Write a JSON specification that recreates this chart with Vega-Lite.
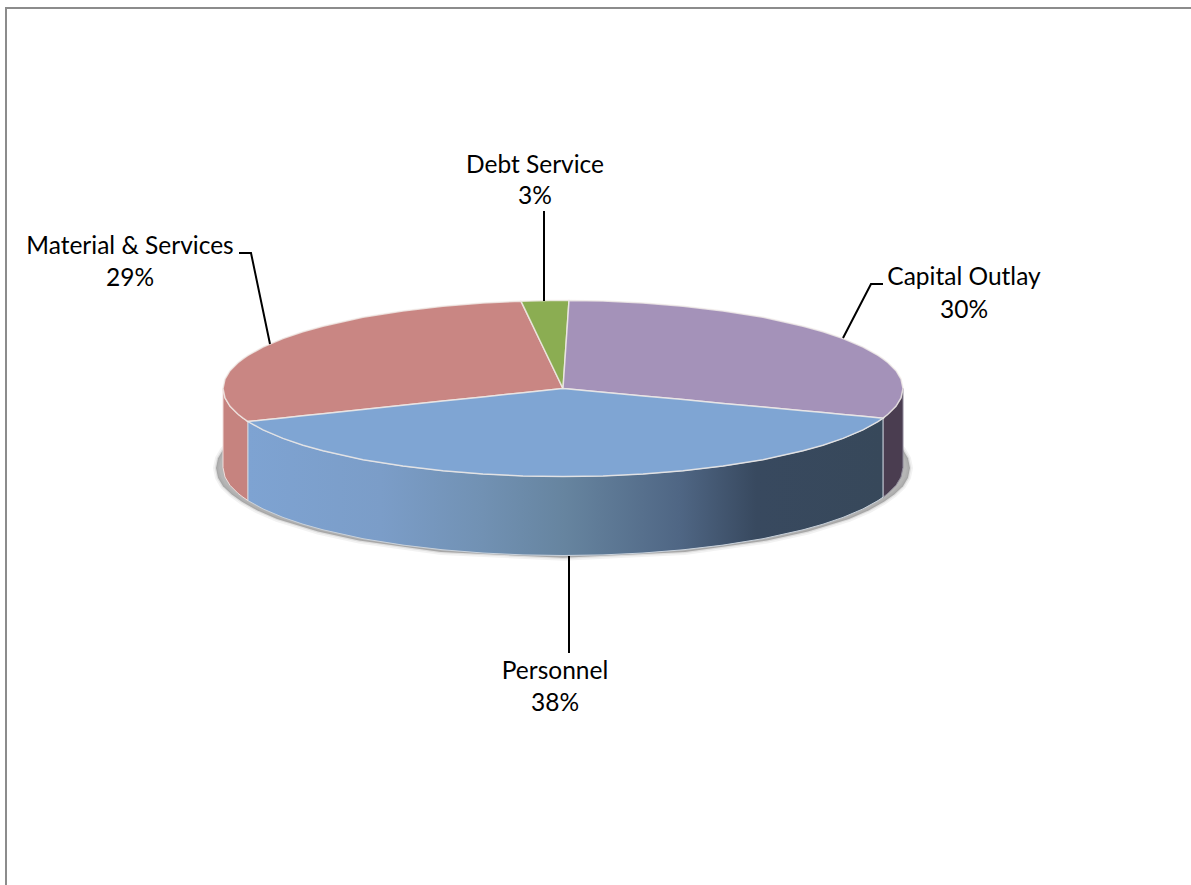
{
  "$schema": "https://vega.github.io/schema/vega-lite/v6.json",
  "width": 1191,
  "height": 885,
  "padding": 0,
  "autosize": {"type": "none"},
  "background": "white",
  "config": {"view": {"stroke": null}},
  "datasets": {
    "frame": [
      {"edge": "top-left", "seq": 1, "x": 6, "y": 885},
      {"edge": "top-left", "seq": 2, "x": 6, "y": 8},
      {"edge": "top-left", "seq": 3, "x": 1191, "y": 8}
    ],
    "shadow": [
      {"x": 216, "y": 468, "y2": 468}, {"x": 218, "y": 458.3, "y2": 477.7}, {"x": 223, "y": 449.8, "y2": 486.2},
      {"x": 231.5, "y": 441.7, "y2": 494.3}, {"x": 242, "y": 434.2, "y2": 501.8}, {"x": 257, "y": 425.8, "y2": 510.2},
      {"x": 277, "y": 417.1, "y2": 518.9}, {"x": 318, "y": 404.5, "y2": 531.5}, {"x": 359, "y": 395.4, "y2": 540.6},
      {"x": 441, "y": 384, "y2": 552}, {"x": 563, "y": 378.2, "y2": 557.8}, {"x": 685, "y": 384, "y2": 552},
      {"x": 767, "y": 395.4, "y2": 540.6}, {"x": 808, "y": 404.5, "y2": 531.5}, {"x": 849, "y": 417.1, "y2": 518.9},
      {"x": 869, "y": 425.8, "y2": 510.2}, {"x": 884, "y": 434.2, "y2": 501.8}, {"x": 894.5, "y": 441.7, "y2": 494.3},
      {"x": 903, "y": 449.8, "y2": 486.2}, {"x": 908, "y": 458.3, "y2": 477.7}, {"x": 910, "y": 468, "y2": 468}
    ],
    "wall": [
      {"slice": "Material & Services", "x": 223, "y": 388.5, "y2": 467.5},
      {"slice": "Material & Services", "x": 225, "y": 398, "y2": 477},
      {"slice": "Material & Services", "x": 230, "y": 406.3, "y2": 485.3},
      {"slice": "Material & Services", "x": 238, "y": 414.3, "y2": 493.3},
      {"slice": "Material & Services", "x": 243, "y": 418.2, "y2": 497.2},
      {"slice": "Material & Services", "x": 248, "y": 421.6, "y2": 500.6},
      {"slice": "Capital Outlay", "x": 883, "y": 418.2, "y2": 497.2},
      {"slice": "Capital Outlay", "x": 888, "y": 414.3, "y2": 493.3},
      {"slice": "Capital Outlay", "x": 896, "y": 406.3, "y2": 485.3},
      {"slice": "Capital Outlay", "x": 901, "y": 398, "y2": 477},
      {"slice": "Capital Outlay", "x": 903, "y": 388.5, "y2": 467.5},
      {"slice": "Personnel", "x": 248, "y": 421.6, "y2": 500.6},
      {"slice": "Personnel", "x": 263, "y": 429.9, "y2": 508.9},
      {"slice": "Personnel", "x": 283, "y": 438.4, "y2": 517.4},
      {"slice": "Personnel", "x": 303, "y": 445.2, "y2": 524.2},
      {"slice": "Personnel", "x": 323, "y": 450.8, "y2": 529.8},
      {"slice": "Personnel", "x": 363, "y": 459.7, "y2": 538.7},
      {"slice": "Personnel", "x": 403, "y": 466.1, "y2": 545.1},
      {"slice": "Personnel", "x": 443, "y": 470.8, "y2": 549.8},
      {"slice": "Personnel", "x": 483, "y": 474, "y2": 553},
      {"slice": "Personnel", "x": 523, "y": 475.9, "y2": 554.9},
      {"slice": "Personnel", "x": 563, "y": 476.5, "y2": 555.5},
      {"slice": "Personnel", "x": 603, "y": 475.9, "y2": 554.9},
      {"slice": "Personnel", "x": 643, "y": 474, "y2": 553},
      {"slice": "Personnel", "x": 683, "y": 470.8, "y2": 549.8},
      {"slice": "Personnel", "x": 723, "y": 466.1, "y2": 545.1},
      {"slice": "Personnel", "x": 763, "y": 459.7, "y2": 538.7},
      {"slice": "Personnel", "x": 803, "y": 450.8, "y2": 529.8},
      {"slice": "Personnel", "x": 823, "y": 445.2, "y2": 524.2},
      {"slice": "Personnel", "x": 843, "y": 438.4, "y2": 517.4},
      {"slice": "Personnel", "x": 863, "y": 429.9, "y2": 508.9},
      {"slice": "Personnel", "x": 878, "y": 421.6, "y2": 500.6},
      {"slice": "Personnel", "x": 883, "y": 418.2, "y2": 497.2}
    ],
    "top": [
      {"slice": "Material & Services", "x": 223, "y": 388.5, "y2": 388.5},
      {"slice": "Material & Services", "x": 225, "y": 379, "y2": 398},
      {"slice": "Material & Services", "x": 230, "y": 370.7, "y2": 406.3},
      {"slice": "Material & Services", "x": 238, "y": 362.7, "y2": 414.3},
      {"slice": "Material & Services", "x": 243, "y": 358.8, "y2": 418.2},
      {"slice": "Material & Services", "x": 248, "y": 355.4, "y2": 421.6},
      {"slice": "Material & Services", "x": 263, "y": 347.1, "y2": 420},
      {"slice": "Material & Services", "x": 283, "y": 338.6, "y2": 417.9},
      {"slice": "Material & Services", "x": 303, "y": 331.8, "y2": 415.8},
      {"slice": "Material & Services", "x": 323, "y": 326.2, "y2": 413.7},
      {"slice": "Material & Services", "x": 363, "y": 317.3, "y2": 409.5},
      {"slice": "Material & Services", "x": 403, "y": 310.9, "y2": 405.3},
      {"slice": "Material & Services", "x": 443, "y": 306.2, "y2": 401.1},
      {"slice": "Material & Services", "x": 483, "y": 303, "y2": 396.9},
      {"slice": "Material & Services", "x": 521, "y": 301.2, "y2": 392.9},
      {"slice": "Material & Services", "x": 563, "y": 388.5, "y2": 388.5},
      {"slice": "Debt Service", "x": 521, "y": 301.2, "y2": 301.2},
      {"slice": "Debt Service", "x": 530, "y": 300.9, "y2": 319.9},
      {"slice": "Debt Service", "x": 540, "y": 300.7, "y2": 340.7},
      {"slice": "Debt Service", "x": 550, "y": 300.6, "y2": 361.5},
      {"slice": "Debt Service", "x": 563, "y": 300.5, "y2": 388.5},
      {"slice": "Debt Service", "x": 569, "y": 300.5, "y2": 300.5},
      {"slice": "Capital Outlay", "x": 563, "y": 388.5, "y2": 388.5},
      {"slice": "Capital Outlay", "x": 569, "y": 300.5, "y2": 389.1},
      {"slice": "Capital Outlay", "x": 603, "y": 301.1, "y2": 392.2},
      {"slice": "Capital Outlay", "x": 643, "y": 303, "y2": 395.9},
      {"slice": "Capital Outlay", "x": 683, "y": 306.2, "y2": 399.6},
      {"slice": "Capital Outlay", "x": 723, "y": 310.9, "y2": 403.4},
      {"slice": "Capital Outlay", "x": 763, "y": 317.3, "y2": 407.1},
      {"slice": "Capital Outlay", "x": 803, "y": 326.2, "y2": 410.8},
      {"slice": "Capital Outlay", "x": 823, "y": 331.8, "y2": 412.6},
      {"slice": "Capital Outlay", "x": 843, "y": 338.6, "y2": 414.5},
      {"slice": "Capital Outlay", "x": 863, "y": 347.1, "y2": 416.3},
      {"slice": "Capital Outlay", "x": 878, "y": 355.4, "y2": 417.7},
      {"slice": "Capital Outlay", "x": 883, "y": 358.8, "y2": 418.2},
      {"slice": "Capital Outlay", "x": 888, "y": 362.7, "y2": 414.3},
      {"slice": "Capital Outlay", "x": 896, "y": 370.7, "y2": 406.3},
      {"slice": "Capital Outlay", "x": 901, "y": 379, "y2": 398},
      {"slice": "Capital Outlay", "x": 903, "y": 388.5, "y2": 388.5},
      {"slice": "Personnel", "x": 248, "y": 421.6, "y2": 421.6},
      {"slice": "Personnel", "x": 263, "y": 420, "y2": 429.9},
      {"slice": "Personnel", "x": 283, "y": 417.9, "y2": 438.4},
      {"slice": "Personnel", "x": 303, "y": 415.8, "y2": 445.2},
      {"slice": "Personnel", "x": 323, "y": 413.7, "y2": 450.8},
      {"slice": "Personnel", "x": 363, "y": 409.5, "y2": 459.7},
      {"slice": "Personnel", "x": 403, "y": 405.3, "y2": 466.1},
      {"slice": "Personnel", "x": 443, "y": 401.1, "y2": 470.8},
      {"slice": "Personnel", "x": 483, "y": 396.9, "y2": 474},
      {"slice": "Personnel", "x": 523, "y": 392.7, "y2": 475.9},
      {"slice": "Personnel", "x": 563, "y": 388.5, "y2": 476.5},
      {"slice": "Personnel", "x": 603, "y": 392.2, "y2": 475.9},
      {"slice": "Personnel", "x": 643, "y": 395.9, "y2": 474},
      {"slice": "Personnel", "x": 683, "y": 399.6, "y2": 470.8},
      {"slice": "Personnel", "x": 723, "y": 403.4, "y2": 466.1},
      {"slice": "Personnel", "x": 763, "y": 407.1, "y2": 459.7},
      {"slice": "Personnel", "x": 803, "y": 410.8, "y2": 450.8},
      {"slice": "Personnel", "x": 823, "y": 412.6, "y2": 445.2},
      {"slice": "Personnel", "x": 843, "y": 414.5, "y2": 438.4},
      {"slice": "Personnel", "x": 863, "y": 416.3, "y2": 429.9},
      {"slice": "Personnel", "x": 878, "y": 417.7, "y2": 421.6},
      {"slice": "Personnel", "x": 883, "y": 418.2, "y2": 418.2}
    ],
    "leaders": [
      {"slice": "Debt Service", "seq": 1, "x": 544, "y": 211},
      {"slice": "Debt Service", "seq": 2, "x": 544, "y": 301},
      {"slice": "Material & Services", "seq": 1, "x": 239, "y": 253},
      {"slice": "Material & Services", "seq": 2, "x": 251, "y": 253},
      {"slice": "Material & Services", "seq": 3, "x": 270, "y": 344},
      {"slice": "Capital Outlay", "seq": 1, "x": 883, "y": 284},
      {"slice": "Capital Outlay", "seq": 2, "x": 871, "y": 284},
      {"slice": "Capital Outlay", "seq": 3, "x": 843, "y": 338},
      {"slice": "Personnel", "seq": 1, "x": 569, "y": 556},
      {"slice": "Personnel", "seq": 2, "x": 569, "y": 653}
    ],
    "labels": [
      {"slice": "Debt Service", "share": 0.03, "x": 535, "y": 166, "yShare": 197},
      {"slice": "Material & Services", "share": 0.29, "x": 130, "y": 247, "yShare": 279},
      {"slice": "Capital Outlay", "share": 0.30, "x": 964, "y": 278, "yShare": 311},
      {"slice": "Personnel", "share": 0.38, "x": 555, "y": 672, "yShare": 704}
    ]
  },
  "encoding": {
    "x": {"field": "x", "type": "quantitative", "axis": null, "scale": {"domain": [0, 1191], "nice": false, "zero": false}},
    "y": {"field": "y", "type": "quantitative", "axis": null, "scale": {"domain": [885, 0], "nice": false, "zero": false}}
  },
  "layer": [
    {
      "data": {"name": "frame"},
      "mark": {"type": "line", "color": "#8c8c8c", "strokeWidth": 2},
      "encoding": {"order": {"field": "seq"}, "detail": {"field": "edge"}}
    },
    {
      "data": {"name": "shadow"},
      "mark": {"type": "area", "orient": "vertical", "fill": "#000000", "fillOpacity": 0, "stroke": "#000000", "strokeOpacity": 0.05, "strokeWidth": 6},
      "encoding": {"y2": {"field": "y2"}}
    },
    {
      "data": {"name": "shadow"},
      "mark": {"type": "area", "orient": "vertical", "fill": "#000000", "fillOpacity": 0, "stroke": "#000000", "strokeOpacity": 0.08, "strokeWidth": 2.5},
      "encoding": {"y2": {"field": "y2"}}
    },
    {
      "data": {"name": "shadow"},
      "mark": {"type": "area", "orient": "vertical", "fill": "#7a7a7a", "fillOpacity": 0.55},
      "encoding": {"y2": {"field": "y2"}}
    },
    {
      "data": {"name": "wall"},
      "transform": [{"filter": "datum.slice === 'Material & Services'"}],
      "mark": {"type": "area", "orient": "vertical", "fill": "#c6837f", "stroke": "#f0dcda", "strokeWidth": 1},
      "encoding": {"y2": {"field": "y2"}}
    },
    {
      "data": {"name": "wall"},
      "transform": [{"filter": "datum.slice === 'Capital Outlay'"}],
      "mark": {"type": "area", "orient": "vertical", "fill": "#4a3d50", "stroke": "#8f8a9a", "strokeWidth": 1},
      "encoding": {"y2": {"field": "y2"}}
    },
    {
      "data": {"name": "wall"},
      "transform": [{"filter": "datum.slice === 'Personnel'"}],
      "mark": {
        "type": "area",
        "orient": "vertical",
        "stroke": "#c9d2dc",
        "strokeWidth": 1,
        "fill": {
          "gradient": "linear",
          "x1": 0, "y1": 0, "x2": 1, "y2": 0,
          "stops": [
            {"offset": 0, "color": "#7ea3d2"},
            {"offset": 0.21, "color": "#7b9dc8"},
            {"offset": 0.37, "color": "#7191b3"},
            {"offset": 0.5, "color": "#66849f"},
            {"offset": 0.68, "color": "#4f6684"},
            {"offset": 0.8, "color": "#38495f"},
            {"offset": 1, "color": "#37485a"}
          ]
        }
      },
      "encoding": {"y2": {"field": "y2"}}
    },
    {
      "data": {"name": "top"},
      "mark": {"type": "area", "orient": "vertical", "stroke": "#f1ece9", "strokeOpacity": 0.8, "strokeWidth": 1.5},
      "encoding": {
        "y2": {"field": "y2"},
        "color": {
          "field": "slice",
          "type": "nominal",
          "legend": null,
          "scale": {
            "domain": ["Material & Services", "Debt Service", "Capital Outlay", "Personnel"],
            "range": ["#c98683", "#8bad52", "#a492b9", "#7fa5d3"]
          }
        }
      }
    },
    {
      "data": {"name": "leaders"},
      "mark": {"type": "line", "color": "#000000", "strokeWidth": 2},
      "encoding": {"order": {"field": "seq"}, "detail": {"field": "slice"}}
    },
    {
      "data": {"name": "labels"},
      "mark": {"type": "text", "font": "Lato", "fontSize": 24.5, "color": "#000000", "align": "center", "baseline": "middle"},
      "encoding": {"text": {"field": "slice"}}
    },
    {
      "data": {"name": "labels"},
      "mark": {"type": "text", "font": "Lato", "fontSize": 24.5, "color": "#000000", "align": "center", "baseline": "middle"},
      "encoding": {
        "y": {"field": "yShare", "type": "quantitative"},
        "text": {"field": "share", "format": ".0%"}
      }
    }
  ]
}
